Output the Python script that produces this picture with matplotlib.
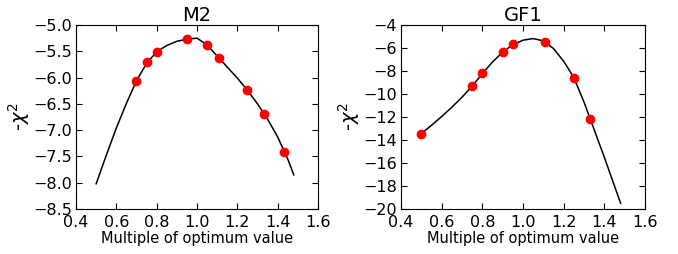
import matplotlib
matplotlib.use("Agg")
import matplotlib.pyplot as plt

# M2 panel
m2_pts_x = [0.70, 0.75, 0.80, 0.95, 1.05, 1.11, 1.25, 1.33, 1.43]
m2_pts_y = [-6.06, -5.71, -5.51, -5.27, -5.38, -5.63, -6.24, -6.69, -7.42]
m2_fit_x = [0.50, 0.55, 0.60, 0.65, 0.70, 0.75, 0.80, 0.85, 0.90, 0.95, 1.00,
            1.05, 1.10, 1.15, 1.20, 1.25, 1.30, 1.35, 1.40, 1.45, 1.48]
m2_fit_y = [-8.02, -7.48, -6.96, -6.49, -6.06, -5.73, -5.51, -5.39, -5.31, -5.27, -5.25,
            -5.38, -5.59, -5.80, -6.01, -6.24, -6.50, -6.79, -7.13, -7.55, -7.85]

# GF1 panel
gf1_pts_x = [0.50, 0.75, 0.80, 0.90, 0.95, 1.11, 1.25, 1.33]
gf1_pts_y = [-13.45, -9.32, -8.16, -6.33, -5.66, -5.51, -8.57, -12.15]
gf1_fit_x = [0.50, 0.55, 0.60, 0.65, 0.70, 0.75, 0.80, 0.85, 0.90, 0.95, 1.00,
             1.05, 1.10, 1.15, 1.20, 1.25, 1.30, 1.35, 1.40, 1.45, 1.48]
gf1_fit_y = [-13.45, -12.72, -11.96, -11.15, -10.28, -9.32, -8.22, -7.22, -6.36, -5.72, -5.32,
             -5.18, -5.38, -6.05, -7.15, -8.57, -10.70, -13.10, -15.50, -18.00, -19.50]

fig = plt.figure(figsize=(6.78, 2.54), dpi=100)
ax1 = fig.add_axes([76 / 678, 45 / 254, 242 / 678, 184 / 254])
ax2 = fig.add_axes([401 / 678, 45 / 254, 244 / 678, 184 / 254])

panels = [
    (ax1, "M2", m2_fit_x, m2_fit_y, m2_pts_x, m2_pts_y, (-8.5, -5.0), [-8.5, -8.0, -7.5, -7.0, -6.5, -6.0, -5.5, -5.0], "%.1f"),
    (ax2, "GF1", gf1_fit_x, gf1_fit_y, gf1_pts_x, gf1_pts_y, (-20, -4), list(range(-20, -3, 2)), "%d"),
]

for ax, title, fx, fy, px, py, ylim, yticks, fmt in panels:
    ax.plot(fx, fy, color="black", lw=1.1)
    ax.plot(px, py, "o", color="red", mec="red", ms=6)
    ax.set_xlim(0.4, 1.6)
    ax.set_ylim(*ylim)
    ax.set_xticks([0.4, 0.6, 0.8, 1.0, 1.2, 1.4, 1.6])
    ax.set_yticks(yticks)
    ax.set_yticklabels([(fmt % t).replace("-", "\u2212") for t in yticks])
    ax.tick_params(direction="in", top=True, right=True, labelsize=11.5, length=4)
    ax.tick_params(axis="x", pad=4)
    ax.tick_params(axis="y", pad=3)
    ax.set_title(title, fontsize=14, pad=3)
    ax.set_xlabel("Multiple of optimum value", fontsize=10.5, labelpad=1)
    ax.set_ylabel(r"-$\chi^2$", fontsize=14, labelpad=1)

fig.savefig("out.png", dpi=100)
